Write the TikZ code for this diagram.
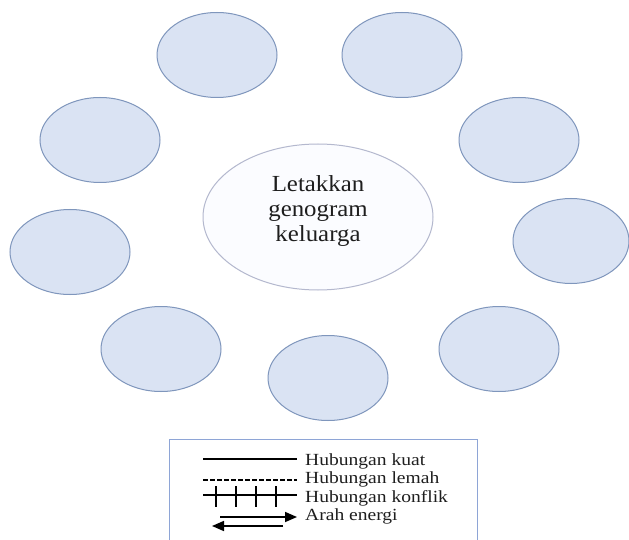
\documentclass[tikz,border=0pt]{standalone}
\usepackage{fontspec}
\setmainfont{Liberation Serif}
\usetikzlibrary{shapes.geometric,arrows.meta}
\definecolor{efill}{HTML}{DAE3F3}
\definecolor{eline}{HTML}{7F96BC}
\definecolor{cline}{HTML}{B4B8CE}
\definecolor{cfill}{HTML}{FBFCFF}
\definecolor{bline}{HTML}{8EA5D6}
\definecolor{txt}{HTML}{1E1E1E}
\tikzset{
  member/.style={ellipse, draw=eline, fill=efill, line width=1pt, minimum width=120pt, minimum height=85pt, inner sep=0pt},
  centre/.style={ellipse, draw=cline, fill=cfill, line width=1pt, minimum width=230pt, minimum height=146pt, inner sep=0pt},
  centretext/.style={align=center, inner sep=0pt, text=txt, font=\fontsize{23}{25}\selectfont},
  legtext/.style={anchor=base west, inner sep=0pt, text=txt, font=\fontsize{17}{18}\selectfont},
  legline/.style={line width=1.6pt, black}
}
\newcommand{\wide}[2]{\scalebox{#1}[1]{#2}}
\begin{document}
\begin{tikzpicture}[x=1pt,y=-1pt]
\useasboundingbox (0,0) rectangle (629,540);
\fill[white] (0,0) rectangle (629,540);
% members
\node[member] (m1) at (217,55) {};
\node[member] (m2) at (402,55) {};
\node[member] (m3) at (100,140) {};
\node[member] (m4) at (519,140) {};
\node[member] (m5) at (70,252) {};
\node[member, minimum width=116pt] (m6) at (571,241) {};
\node[member] (m7) at (161,349) {};
\node[member] (m8) at (328,378) {};
\node[member] (m9) at (499,349) {};
% centre
\node[centre] (c) at (318,217) {};
\node[centretext] (ct) at (318,211.5) {\wide{1.08}{Letakkan}\\\wide{1.08}{genogram}\\\wide{1.08}{keluarga}};
% legend box
\draw[bline, line width=1pt] (169,541) -- (169,439) -- (477,439) -- (477,541);
% legend items
\coordinate (a1) at (203,459); \coordinate (a2) at (297,459);
\coordinate (b1) at (203,480); \coordinate (b2) at (297,480);
\coordinate (d1) at (203,495); \coordinate (d2) at (297,495);
\coordinate (e1) at (220,517); \coordinate (e2) at (297,517);
\coordinate (f1) at (283,526); \coordinate (f2) at (212,526);
\draw[legline, line width=2.2pt] (a1) -- (a2);
\draw[legline, line width=1.3pt, dash pattern=on 4.5pt off 2.5pt] (b1) -- (b2);
\draw[legline] (d1) -- (d2);
\foreach \x in {216,236,256,276} \draw[black, line width=1.3pt] (\x,486) -- (\x,507);
\draw[legline, -{Triangle[length=12pt,width=10pt]}] (e1) -- (e2);
\draw[legline, -{Triangle[length=12pt,width=10pt]}] (f1) -- (f2);
\node[legtext] (t1) at (305,465) {\wide{1.15}{Hubungan kuat}};
\node[legtext] (t2) at (305,483) {\wide{1.15}{Hubungan lemah}};
\node[legtext] (t3) at (305,502) {\wide{1.15}{Hubungan konflik}};
\node[legtext] (t4) at (305,520) {\wide{1.15}{Arah energi}};
\end{tikzpicture}
\end{document}
